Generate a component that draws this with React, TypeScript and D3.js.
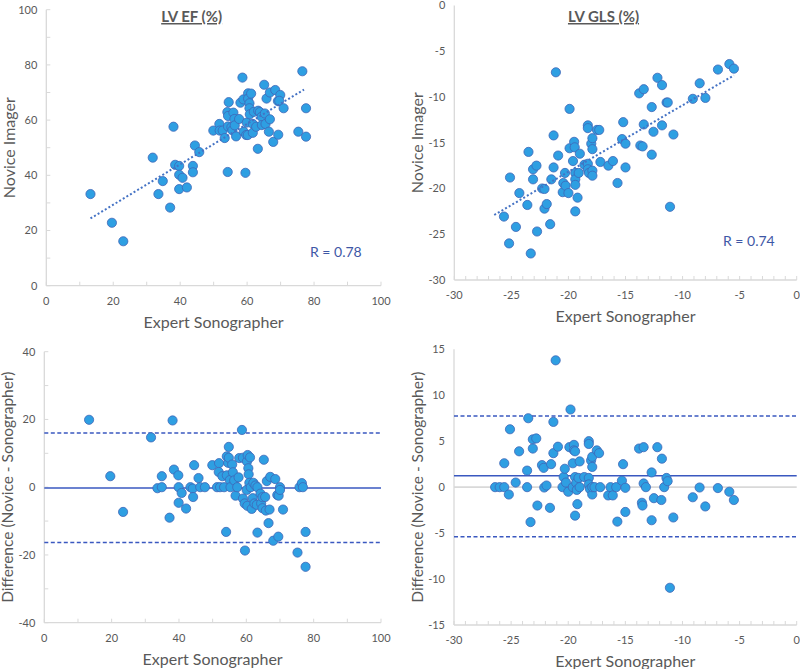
import React from 'react';
import * as d3 from 'd3';

// ---------- DATA ----------
const expertEF = [13.2,19.6,23.0,31.8,33.5,34.8,38.0,37.0,38.5,39.7,39.7,39.7,40.7,42.0,43.8,43.8,44.4,45.7,49.9,51.7,51.8,52.7,53.3,54.2,54.1,54.5,54.3,54.3,55.3,55.6,55.9,56.2,56.3,56.7,57.6,58.0,58.6,58.9,59.0,59.5,59.7,59.9,60.2,60.3,60.3,60.7,60.7,60.8,61.2,61.7,61.7,62.0,62.7,63.2,63.3,63.8,64.3,64.4,65.1,65.3,65.5,65.8,66.5,66.8,66.8,67.8,68.4,69.3,69.2,69.9,69.6,70.9,75.3,76.5,77.6,77.6];
const noviceEF = [33.2,22.8,16.1,46.4,33.2,37.9,57.6,28.3,43.8,43.4,40.2,35.0,39.1,35.6,43.4,41.1,50.8,48.4,56.2,58.6,56.2,56.2,53.5,41.2,62.9,66.5,61.5,57.7,57.4,56.3,62.7,60.4,58.1,54.1,60.4,66.3,75.4,67.5,55.8,40.9,54.6,59.1,54.6,69.7,67.8,66.1,64.3,62.1,69.6,58.6,55.4,63.0,57.6,49.6,63.4,62.9,61.2,58.2,72.8,62.4,58.6,67.8,55.8,60.3,70.0,52.1,70.9,54.7,66.9,69.1,67.0,64.3,55.8,77.7,64.3,54.0];

const expertGLS = [-25.65,-25.12,-25.2,-24.6,-24.3,-23.6,-23.5,-23.3,-23.1,-23.1,-22.8,-22.75,-22.3,-22.1,-22.1,-21.9,-21.6,-21.5,-21.3,-21.3,-21.1,-20.9,-20.5,-20.45,-20.3,-20.25,-20.0,-19.9,-19.9,-19.6,-19.5,-19.45,-19.4,-19.4,-19.4,-19.4,-19.2,-19.1,-19.0,-18.6,-18.3,-18.3,-18.3,-18.3,-18.2,-18.0,-17.9,-17.9,-17.9,-17.9,-17.5,-17.3,-17.2,-16.5,-16.1,-15.7,-15.3,-15.2,-15.0,-15.0,-13.8,-13.7,-13.5,-13.4,-13.4,-12.7,-12.7,-12.55,-12.2,-11.8,-11.8,-11.4,-11.3,-11.1,-10.8,-9.1,-8.5,-8.0,-6.9,-5.9,-5.5];
const noviceGLS = [-23.07,-18.8,-26.0,-24.2,-20.5,-21.8,-16.0,-27.1,-17.9,-19.0,-17.5,-24.7,-20.0,-20.05,-22.2,-21.7,-23.9,-19.0,-17.7,-14.2,-7.3,-16.4,-20.4,-19.4,-18.3,-19.7,-20.5,-15.6,-11.3,-17.0,-14.9,-15.5,-18.3,-19.0,-19.6,-22.5,-21.0,-18.3,-16.2,-17.4,-17.3,-13.1,-13.4,-17.9,-18.3,-15.1,-14.5,-15.7,-18.05,-18.6,-13.6,-13.6,-17.1,-17.5,-17.0,-19.4,-14.6,-12.75,-15.1,-17.7,-9.6,-15.3,-15.4,-9.15,-13.0,-11.1,-16.3,-13.8,-7.9,-8.7,-13.1,-10.6,-10.6,-22.0,-14.1,-10.2,-8.5,-10.1,-7.0,-6.4,-6.9];

const baExpertEF = [13.3,19.6,23.4,31.7,33.6,34.9,34.9,37.2,38.1,38.5,39.8,39.9,39.9,40.8,42.1,43.4,44.1,44.2,44.5,45.8,46.3,47.7,49.9,51.3,51.9,51.8,52.2,52.9,53.4,54.0,54.2,54.2,54.6,54.8,54.8,55.1,55.3,55.8,56.0,56.4,56.8,57.3,57.7,57.9,58.7,59.0,59.0,59.5,59.6,60.1,60.2,60.4,60.6,60.7,60.3,60.9,61.1,61.3,61.6,61.9,62.1,62.4,62.7,63.1,63.3,63.3,64.2,64.4,64.8,64.8,65.2,65.6,65.8,66.1,66.6,66.9,67.1,68.0,68.6,69.2,69.6,69.5,70.0,70.0,70.9,75.2,75.8,76.5,76.8,77.6,77.6];
const baDiffEF = [19.9,3.25,-7.3,14.7,-0.3,3.25,0,-9.0,19.7,5.2,3.5,0,-4.6,-1.7,-6.3,0,-0.4,-2.9,6.5,2.7,0,0,6.5,0,7.1,4.5,0,3.25,0,-13.2,9.1,3.5,7.2,11.9,8.7,2.1,0,6.7,4.4,2.0,-2.5,0,2.9,8.6,16.9,8.7,-3.35,-4.8,-18.7,-0.8,7.6,9.5,5.6,3.8,-5.5,1.3,8.8,0,-6.4,-3.25,1.3,-4.8,0.5,-5.2,0,-13.4,-1.9,-4.8,-2.95,-6.2,8.1,-2.9,-6.9,1.8,-10.6,-6.6,3.05,-15.8,2.4,-2.3,-2.5,-14.6,0,-0.8,-6.6,-19.3,0,1.2,0,-13.2,-23.5];

const baExpertGLS = [-26.4,-26.0,-25.6,-25.6,-25.2,-25.1,-24.6,-24.3,-23.6,-23.6,-23.5,-23.3,-23.1,-23.1,-22.8,-22.7,-22.3,-22.15,-22.1,-21.9,-21.6,-21.5,-21.3,-21.3,-21.1,-20.9,-20.5,-20.4,-20.3,-20.2,-20.0,-19.9,-19.8,-19.6,-19.6,-19.5,-19.5,-19.4,-19.4,-19.4,-19.3,-19.25,-19.2,-19.1,-19.0,-19.0,-18.6,-18.2,-18.2,-18.2,-18.2,-18.1,-18.0,-17.9,-17.9,-17.9,-17.9,-17.7,-17.5,-17.3,-17.2,-16.5,-16.3,-16.1,-15.8,-15.7,-15.3,-15.2,-15.0,-15.0,-13.8,-13.55,-13.5,-13.4,-13.4,-13.2,-12.7,-12.7,-12.5,-12.2,-11.85,-11.8,-11.6,-11.4,-11.3,-11.1,-10.8,-9.1,-8.5,-8.0,-6.9,-5.9,-5.5];
const baDiffGLS = [0,0,2.6,0,-0.8,6.3,0.5,3.9,1.8,0,7.5,-3.8,5.2,4.2,5.3,-2.0,2.4,2.1,-0.04,0.18,-2.25,2.5,3.7,7.1,13.8,4.4,0,1.1,2.0,0.5,-0.5,4.35,8.45,2.6,0,4.6,4.0,3.9,1.1,-3.1,0.47,-0.3,-1.85,1.0,0,2.8,1.1,5.0,4.7,1.0,0.3,-0.2,2.9,3.3,2.2,-0.8,0,0,4.0,3.7,0,-0.9,0,-0.9,0,-3.75,0.7,2.5,-0.07,-2.7,4.2,-1.7,-2.0,4.35,0.4,0,1.6,-3.6,-1.2,4.35,-1.4,3.1,0,1.0,0.65,-10.95,-3.3,-1.1,-0.04,-2.1,-0.1,-0.5,-1.4];

// trendlines: [slope, intercept] and x-extent
const trendEF = [0.732, 14.7];
const trendEFRange = [13.2, 77.0];
const trendGLS = [0.727, -3.63];
const trendGLSRange = [-26.5, -5.5];

// Bland-Altman limits: [lower LoA, mean bias, upper LoA]
const limitsEF = [-16.3, -0.2, 16.0];
const limitsGLS = [-5.4, 1.25, 7.75];

const titles = ['LV EF (%)', 'LV GLS (%)'];
const rLabels = ['R = 0.78', 'R = 0.74'];
const xTitle = 'Expert Sonographer';
const yTitleTop = 'Novice Imager';
const yTitleBottom = 'Difference (Novice - Sonographer)';

// ---------- STYLE ----------
const FONT = 'Lato, "Open Sans", sans-serif';
const TEXT = '#595959';
const AXIS = '#D9D9D9';
const FILL = '#2E9FE2';
const STROKE = '#3F66B8';
const BLUE = '#3A58C0';
const RCOL = '#3E57A6';

type PanelProps = {
  left: number; right: number; top: number; bottom: number;
  xDomain: number[]; yDomain: number[];
  xTicks: number[]; xMinor: number[]; yTicks: number[]; yMinor: number[];
  xs: number[]; ys: number[];
  yTitle: string;
  yTitleSize: number;
  title?: string;
  rLabel?: string; rPos?: number[];
  trend?: number[]; trendRange?: number[];
  limits?: number[];
  zeroLine?: boolean;
};

function Panel(p: PanelProps) {
  const x = d3.scaleLinear().domain(p.xDomain).range([p.left, p.right]);
  const y = d3.scaleLinear().domain(p.yDomain).range([p.bottom, p.top]);
  const cx = (p.left + p.right) / 2;
  const cy = (p.top + p.bottom) / 2;
  const trendLine = p.trend && p.trendRange
    ? d3.line<number>().x((v) => x(v)).y((v) => y(p.trend![0] * v + p.trend![1]))(p.trendRange)
    : null;
  return (
    <g>
      {p.xMinor.map((v, i) => (
        <line key={'xm' + i} x1={x(v)} x2={x(v)} y1={p.bottom} y2={p.bottom - 4} stroke={AXIS} strokeWidth={1} />
      ))}
      {p.yMinor.map((v, i) => (
        <line key={'ym' + i} x1={p.left} x2={p.left + 4} y1={y(v)} y2={y(v)} stroke={AXIS} strokeWidth={1} />
      ))}
      <line x1={p.left} x2={p.left} y1={p.top} y2={p.bottom} stroke={AXIS} strokeWidth={1.3} />
      <line x1={p.left} x2={p.right} y1={p.bottom} y2={p.bottom} stroke={AXIS} strokeWidth={1.3} />
      {p.zeroLine && (
        <line x1={p.left} x2={p.right} y1={y(0)} y2={y(0)} stroke={AXIS} strokeWidth={1.6} />
      )}
      {p.yTicks.map((v, i) => (
        <text key={'yt' + i} x={p.left - 9} y={y(v)} dy="0.35em" textAnchor="end" fontSize={11} fill={TEXT} fontFamily={FONT}>{String(v)}</text>
      ))}
      {p.xTicks.map((v, i) => (
        <text key={'xt' + i} x={x(v)} y={p.bottom + 19} textAnchor="middle" fontSize={11} fill={TEXT} fontFamily={FONT}>{String(v)}</text>
      ))}
      <text x={cx} y={p.bottom + 42} textAnchor="middle" fontSize={16} fill={TEXT} fontFamily={FONT}>{xTitle}</text>
      <text transform={`translate(${p.left - 31},${cy}) rotate(-90)`} textAnchor="middle" fontSize={p.yTitleSize} fill={TEXT} fontFamily={FONT}>{p.yTitle}</text>
      {p.limits && p.limits.map((v, i) => (
        <line key={'lim' + i} x1={p.left} x2={p.right} y1={y(v)} y2={y(v)} stroke={BLUE}
          strokeWidth={1.5} strokeDasharray={i === 1 ? undefined : '4 2.5'} />
      ))}
      {p.xs.map((v, i) => (
        <circle key={'pt' + i} cx={x(v)} cy={y(p.ys[i])} r={4.6} fill={FILL} stroke={STROKE} strokeWidth={0.8} />
      ))}
      {trendLine && (
        <path d={trendLine} fill="none" stroke="#4472C4" strokeWidth={2} strokeDasharray="2 2.2" />
      )}
      {p.title && (
        <text x={cx - 22} y={22} textAnchor="middle" fontSize={15} fontWeight="bold" fill={TEXT} fontFamily={FONT}
          style={{ textDecoration: 'underline' }}>{p.title}</text>
      )}
      {p.rLabel && p.rPos && (
        <text x={p.rPos[0]} y={p.rPos[1]} fontSize={14} fill={RCOL} fontFamily={FONT}>{p.rLabel}</text>
      )}
    </g>
  );
}

export default function App() {
  const efTicks = d3.range(0, 101, 20);
  const efMinor = d3.range(0, 101, 10);
  const glsTicks = d3.range(-30, 1, 5);
  const glsMinor = d3.range(-30, 1, 1);
  return (
    <svg width={800} height={669} style={{ position: 'absolute', left: 0, top: 0, background: '#fff' }}>
      <rect width={800} height={669} fill="#fff" />
      <Panel left={46.3} right={381} top={9.7} bottom={285.7}
        xDomain={[0, 100]} yDomain={[0, 100]}
        xTicks={efTicks} xMinor={efMinor} yTicks={efTicks} yMinor={efMinor}
        xs={expertEF} ys={noviceEF} yTitle={yTitleTop} yTitleSize={16}
        title={titles[0]} rLabel={rLabels[0]} rPos={[310, 257]}
        trend={trendEF} trendRange={trendEFRange} />
      <Panel left={454.3} right={796.7} top={5.5} bottom={280}
        xDomain={[-30, 0]} yDomain={[-30, 0]}
        xTicks={glsTicks} xMinor={glsMinor} yTicks={glsTicks} yMinor={[]}
        xs={expertGLS} ys={noviceGLS} yTitle={yTitleTop} yTitleSize={16}
        title={titles[1]} rLabel={rLabels[1]} rPos={[723, 246]}
        trend={trendGLS} trendRange={trendGLSRange} />
      <Panel left={44.3} right={381} top={351.7} bottom={622.7}
        xDomain={[0, 100]} yDomain={[-40, 40]}
        xTicks={efTicks} xMinor={efMinor} yTicks={d3.range(-40, 41, 20)} yMinor={d3.range(-40, 41, 10)}
        xs={baExpertEF} ys={baDiffEF} yTitle={yTitleBottom} yTitleSize={15.5}
        limits={limitsEF} />
      <Panel left={454} right={796.7} top={349.3} bottom={625}
        xDomain={[-30, 0]} yDomain={[-15, 15]}
        xTicks={glsTicks} xMinor={glsMinor} yTicks={d3.range(-15, 16, 5)} yMinor={[]}
        xs={baExpertGLS} ys={baDiffGLS} yTitle={yTitleBottom} yTitleSize={15.5}
        limits={limitsGLS} zeroLine />
    </svg>
  );
}
